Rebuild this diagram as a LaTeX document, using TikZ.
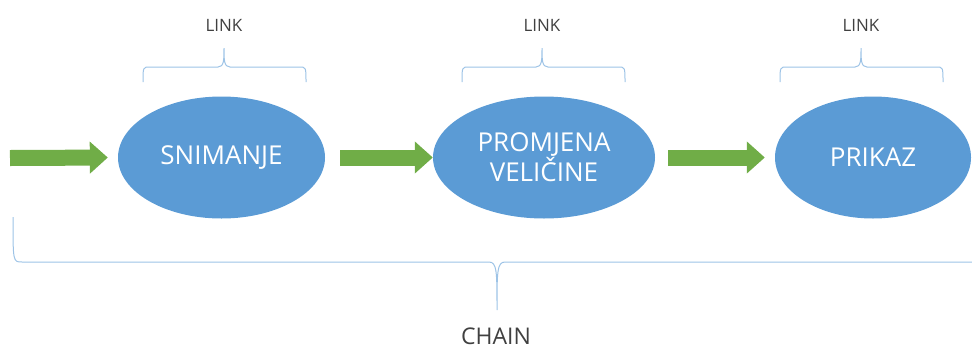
\documentclass[tikz,border=0pt]{standalone}
\usepackage{fontspec}
\setmainfont{Open Sans}
\usetikzlibrary{shapes.geometric,arrows.meta}
\definecolor{ellblue}{HTML}{5B9BD5}
\definecolor{arrgreen}{HTML}{70AD47}
\definecolor{bracecol}{HTML}{9DC3E6}
\definecolor{labelgray}{HTML}{404040}
\tikzset{
  proc/.style={ellipse, fill=ellblue, inner sep=0pt, minimum height=122pt, text=white,
    align=center, font=\fontsize{26}{30}\selectfont},
  flow/.style={draw=arrgreen, line width=16pt, -{Triangle[length=18pt,width=31pt,fill=arrgreen]}},
  bracestyle/.style={draw=bracecol, line width=1pt},
  lbl/.style={text=labelgray, inner sep=0pt},
}
\begin{document}
\begin{tikzpicture}[x=1pt,y=-1pt]
\useasboundingbox (0,0) rectangle (972,349);
% process ellipses
\node[proc, minimum width=207pt] (snim) at (221.5,157.5) {SNIMANJE};
\node[proc, minimum width=222pt] (prom) at (544,157.5) {PROMJENA\\VELIČINE};
\node[proc, minimum width=196pt] (prik) at (873,157.5) {PRIKAZ};
% arrows
\coordinate (start) at (10,158);
\draw[flow, shorten >=10pt] (start) -- (snim.west);
\draw[flow, shorten <=15pt] (snim.east) -- (prom.west);
\draw[flow, shorten <=13pt, shorten >=10pt] (prom.east) -- (prik.west);
% link braces
\foreach \l/\r/\c/\n in {143/306/224/a, 462/625/542/b, 780/943/861/c}{
  \draw[bracestyle] (\l,82) .. controls (\l,67) .. (\l+7,67) -- (\c-6,67)
    .. controls (\c,67) and (\c,60) .. (\c,48)
    .. controls (\c,60) and (\c,67) .. (\c+6,67) -- (\r-7,67)
    .. controls (\r,67) .. (\r,82);
  \node[lbl, font=\fontsize{17}{20}\selectfont] (link\n) at (\c,25) {LINK};
}
% chain brace
\draw[bracestyle] (13,217) .. controls (13,262) .. (22,262) -- (489,262)
  .. controls (497,262) and (497,272) .. (497,310)
  .. controls (497,272) and (497,262) .. (505,262) -- (972,262);
\node[lbl, font=\fontsize{23}{26}\selectfont] (chain) at (496,336) {CHAIN};
\end{tikzpicture}
\end{document}
